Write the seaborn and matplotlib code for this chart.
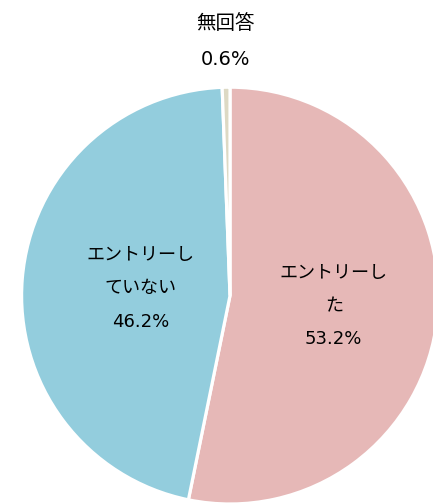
import numpy as np
import matplotlib
matplotlib.use('Agg')
import matplotlib.pyplot as plt
import seaborn as sns

# Data
labels = ['エントリーし\nた', 'エントリーし\nていない', '無回答']
shares = [53.2, 46.2, 0.6]
colors = ['#E6B8B7', '#93CDDD', '#DDD9C4']

sns.set_theme(style='white')
# latin digits from DejaVu (wider, closer to the original), kana/kanji from Noto CJK
plt.rcParams['font.family'] = ['DejaVu Sans', 'Noto Sans CJK JP']

fig = plt.figure(figsize=(4.33, 5.04), dpi=100)
# pie centre ~ (230, 294) px, radius ~ 208 px
ax = fig.add_axes([0.0497, 0.0, 0.963, 0.827])

wedges, _ = ax.pie(
    shares,
    colors=colors,
    startangle=90,
    counterclock=False,
    wedgeprops=dict(edgecolor='white', linewidth=2.3),
)
ax.set_xlim(-1, 1)
ax.set_ylim(-1, 1)
ax.set_aspect('equal')
ax.axis('off')

# label distances (fraction of radius) and sizes for each wedge
dists = [0.5, 0.43, 1.22]
sizes = [13, 13, 14]
for w, lab, val, d, fs in zip(wedges, labels, shares, dists, sizes):
    ang = np.deg2rad((w.theta1 + w.theta2) / 2)
    x, y = d * np.cos(ang), d * np.sin(ang)
    ax.text(x, y, f'{lab}\n{val:.1f}%', ha='center', va='center',
            fontsize=fs, linespacing=2.1, color='black', clip_on=False)

fig.savefig('out.png', dpi=100)
